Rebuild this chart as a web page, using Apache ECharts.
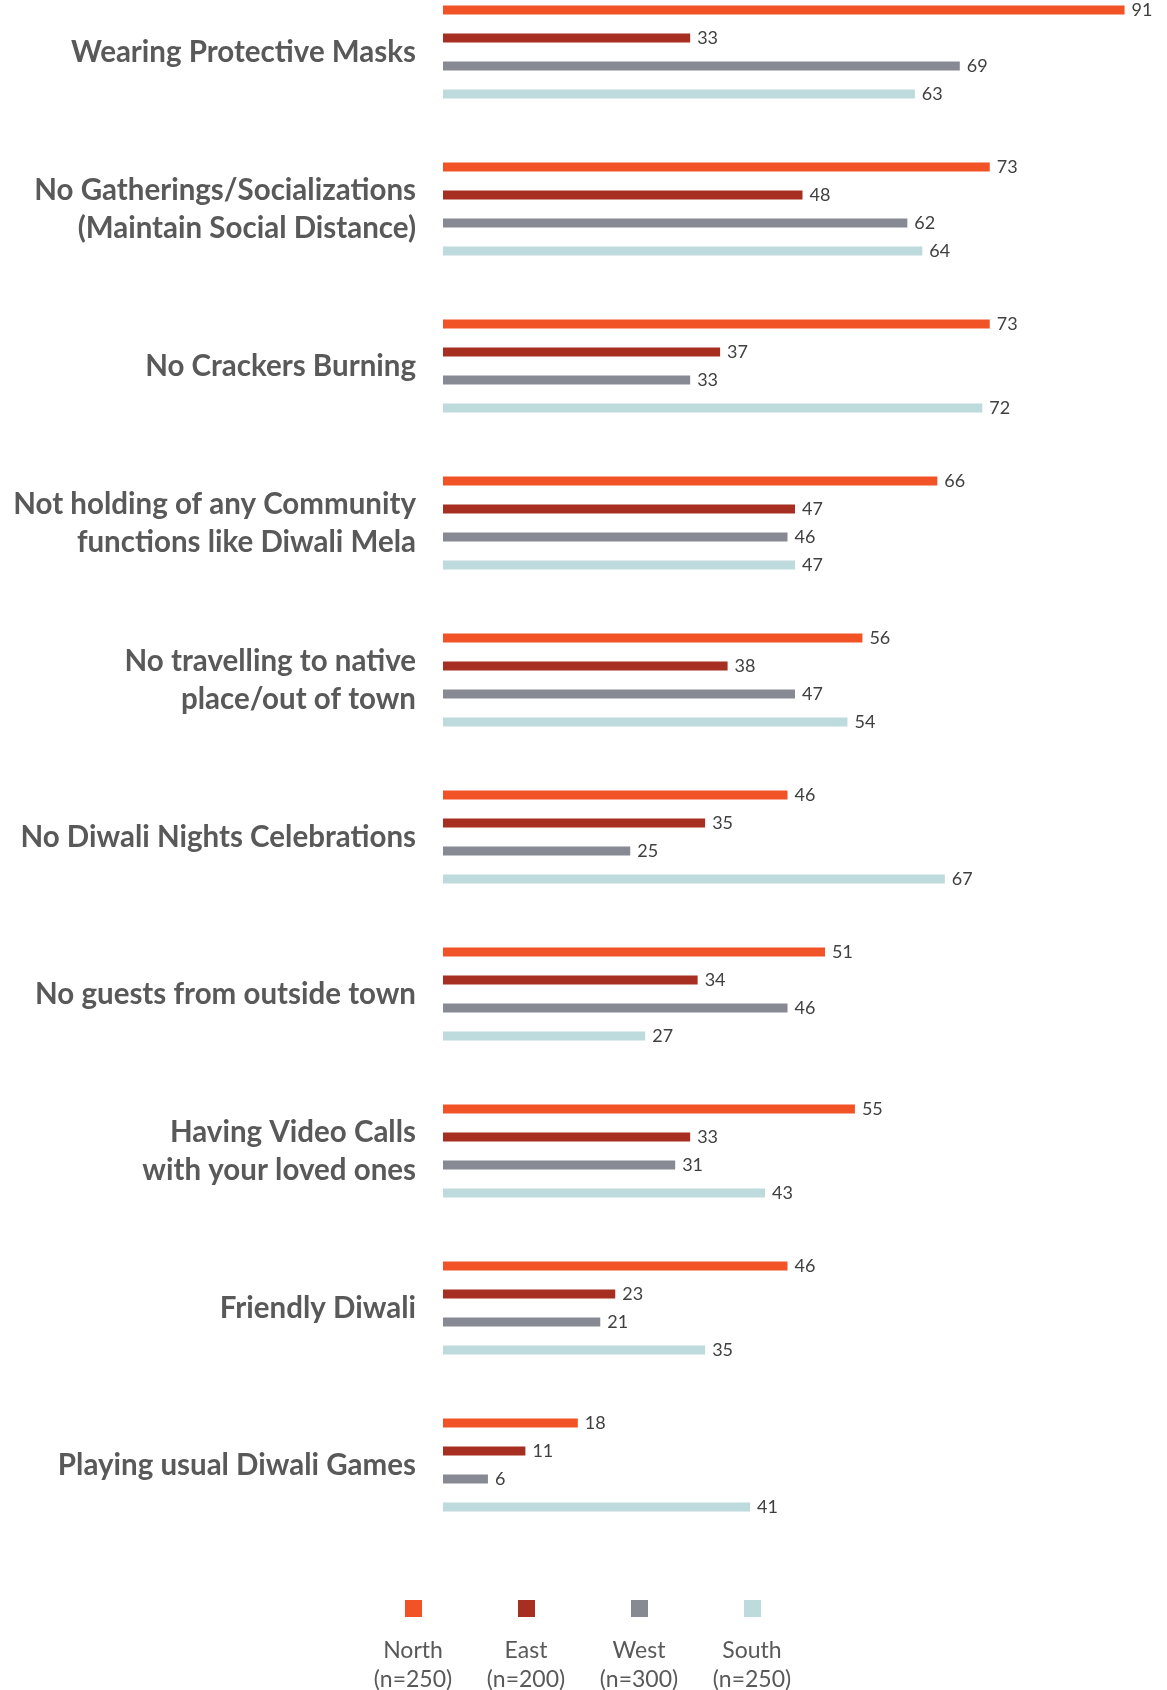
<!DOCTYPE html>
<html>
<head>
<meta charset="utf-8">
<script src="https://cdn.jsdelivr.net/npm/echarts@6/dist/echarts.min.js"></script>
<style>
  html, body { margin: 0; padding: 0; background: #ffffff; }
  #chart { width: 1167px; height: 1690px; }
</style>
</head>
<body>
<div id="chart"></div>
<script>
// Diwali precautions by region (% of respondents)
const categories = [
  'Wearing Protective Masks',
  'No Gatherings/Socializations\n(Maintain Social Distance)',
  'No Crackers Burning',
  'Not holding of any Community\nfunctions like Diwali Mela',
  'No travelling to native\nplace/out of town',
  'No Diwali Nights Celebrations',
  'No guests from outside town',
  'Having Video Calls\nwith your loved ones',
  'Friendly Diwali',
  'Playing usual Diwali Games'
];
const regionNames = ['North', 'East', 'West', 'South'];
const regionSamples = ['(n=250)', '(n=200)', '(n=300)', '(n=250)'];
const north = [91, 73, 73, 66, 56, 46, 51, 55, 46, 18];
const east  = [33, 48, 37, 47, 38, 35, 34, 33, 23, 11];
const west  = [69, 62, 33, 46, 47, 25, 46, 31, 21, 6];
const south = [63, 64, 72, 47, 54, 67, 27, 43, 35, 41];

const regionColors = ['#F15226', '#A72F21', '#888A93', '#BDDADD'];
const seriesValues = [north, east, west, south];

const FONT = 'Lato, "Open Sans", sans-serif';

const chart = echarts.init(document.getElementById('chart'), null, { renderer: 'canvas' });

const series = regionNames.map((name, i) => ({
  name: name,
  type: 'bar',
  data: seriesValues[i],
  barWidth: 9,
  barGap: '211%',
  itemStyle: { color: regionColors[i] },
  label: {
    show: true,
    position: 'right',
    distance: 7,
    color: '#404040',
    fontFamily: FONT,
    fontSize: 18
  },
  emphasis: { disabled: true }
}));

chart.setOption({
  backgroundColor: '#ffffff',
  animation: false,
  // category points sit on the grid edges (boundaryGap false), 9 steps apart
  grid: { left: 443, right: 5, top: 52, height: 1413, containLabel: false },
  xAxis: {
    type: 'value', min: 0, max: 96,
    show: false
  },
  yAxis: {
    type: 'category',
    inverse: true,
    boundaryGap: false,
    data: categories,
    axisLine: { show: false },
    axisTick: { show: false },
    splitLine: { show: false },
    axisLabel: {
      margin: 27,
      align: 'right',
      color: '#595959',
      fontFamily: FONT,
      fontWeight: 'bold',
      fontSize: 29.5,
      lineHeight: 38
    }
  },
  legend: [
    {
      // coloured squares
      data: regionNames,
      left: 405, top: 1600,
      padding: 0,
      orient: 'horizontal',
      icon: 'rect',
      itemWidth: 17, itemHeight: 17,
      itemGap: 96,
      selectedMode: false,
      formatter: () => '',
      textStyle: { fontSize: 1 }
    },
    {
      // region names with sample sizes underneath
      data: regionNames,
      left: 358, top: 1639,
      padding: 0,
      orient: 'horizontal',
      icon: 'none',
      itemWidth: 0, itemHeight: 0,
      itemGap: 8,
      selectedMode: false,
      formatter: (name) => {
        const i = regionNames.indexOf(name);
        return '{a|' + name + '}\n{a|' + regionSamples[i] + '}';
      },
      textStyle: {
        rich: {
          a: {
            width: 100,
            align: 'center',
            color: '#595959',
            fontFamily: FONT,
            fontSize: 23,
            lineHeight: 29
          }
        }
      }
    }
  ],
  series: series
});
</script>
</body>
</html>
